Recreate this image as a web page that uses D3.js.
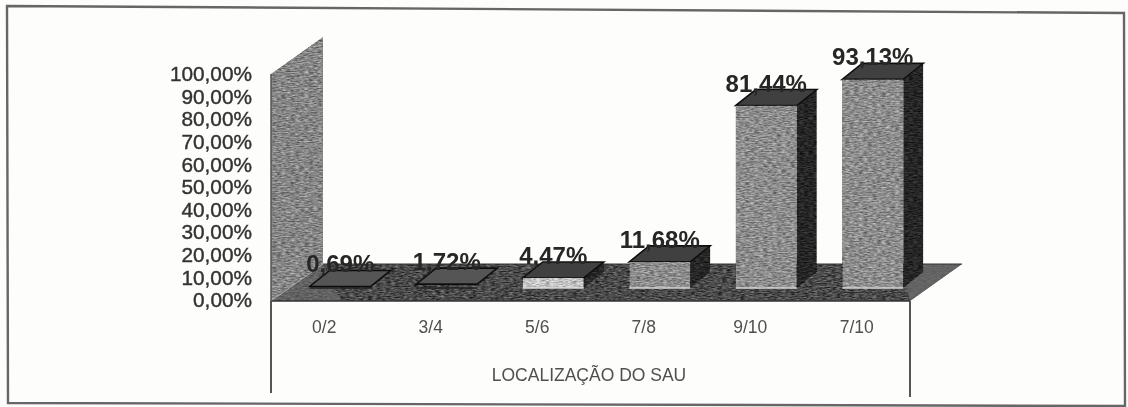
<!DOCTYPE html>
<html><head><meta charset="utf-8">
<style>html,body{margin:0;padding:0;background:#fdfdfb}svg{display:block}text{font-family:"Liberation Sans",Arial,sans-serif}</style>
<script src="https://cdn.jsdelivr.net/npm/d3@7/dist/d3.min.js"></script></head>
<body><svg id="c" width="1128" height="407"></svg>
<script>
const categories = ["0/2","3/4","5/6","7/8","9/10","7/10"];
const values = [0.69,1.72,4.47,11.68,81.44,93.13];
const labels = ["0,69%","1,72%","4,47%","11,68%","81,44%","93,13%"];
const yTicks = [0,10,20,30,40,50,60,70,80,90,100];
const xTitle = "LOCALIZAÇÃO DO SAU";

const svg = d3.select("#c");
const defs = svg.append("defs");
function noise(id, freq, amp){
  const f = defs.append("filter").attr("id",id).attr("x",0).attr("y",0).attr("width",1).attr("height",1)
    .attr("color-interpolation-filters","sRGB");
  f.append("feTurbulence").attr("type","fractalNoise").attr("baseFrequency",freq).attr("numOctaves",2).attr("seed",4).attr("result","t");
  f.append("feColorMatrix").attr("in","t").attr("type","matrix")
    .attr("values","1 0 0 0 0 1 0 0 0 0 1 0 0 0 0 0 0 0 0 1").attr("result","n");
  f.append("feComposite").attr("in","SourceGraphic").attr("in2","n").attr("operator","arithmetic")
    .attr("k1",0).attr("k2",1).attr("k3",amp).attr("k4",-amp/2).attr("result","m");
  f.append("feComposite").attr("in","m").attr("in2","SourceAlpha").attr("operator","in");
}
noise("nA","0.22 0.8",0.62);
noise("nB","0.22 0.8",0.3);
defs.append("filter").attr("id","soft")
  .attr("filterUnits","userSpaceOnUse")
  .attr("x",0).attr("y",0).attr("width",1128).attr("height",407)
  .append("feGaussianBlur").attr("stdDeviation",0.65);

const root = svg.append("g").attr("filter","url(#soft)");

// scales
const x = d3.scaleBand().domain(categories).range([271,910]);
const yAxisScale = d3.scaleLinear().domain([0,100]).range([300,74]);
const yBar = d3.scaleLinear().domain([0,100]).range([288,64]);
const barW = 61, dx = 20, dy = 16, barShift = 16;
const wallD = {x:52,y:37};
const floorY = yAxisScale(0)+1, wallX = 271, floorR = 910;
const poly = pts => pts.map(p=>p.join(",")).join(" ");

// frame
root.append("polygon").attr("points",poly([[7,6],[1124,13],[1125,406],[8,403]]))
  .attr("fill","none").attr("stroke","#666").attr("stroke-width",2.4);

// wall
root.append("polygon").attr("points",poly([[wallX,yAxisScale(100)],[wallX+wallD.x,yAxisScale(100)-wallD.y],[wallX+wallD.x,floorY-wallD.y],[wallX,floorY]]))
  .attr("fill","#858585").attr("filter","url(#nA)");
root.append("line").attr("x1",wallX).attr("x2",wallX).attr("y1",yAxisScale(100)).attr("y2",floorY).attr("stroke","#555").attr("stroke-width",1.5);

// floor
const fl=[[wallX,floorY],[floorR,floorY],[floorR+wallD.x,floorY-wallD.y],[wallX+wallD.x,floorY-wallD.y]];
root.append("polygon").attr("points",poly(fl)).attr("fill","#4a4a4a").attr("filter","url(#nA)");
root.append("polygon").attr("points",poly([[wallX,floorY],[wallX+70,floorY],[wallX+wallD.x,floorY-wallD.y]])).attr("fill","#777").attr("opacity",.55);
root.append("polygon").attr("points",poly([[floorR,floorY],[floorR+wallD.x,floorY-wallD.y],[floorR-8,floorY-wallD.y]])).attr("fill","#6a6a6a").attr("opacity",.8);
root.append("line").attr("x1",wallX).attr("y1",floorY).attr("x2",wallX+wallD.x).attr("y2",floorY-wallD.y).attr("stroke","#a8a8a8").attr("stroke-width",1);
root.append("line").attr("x1",wallX+wallD.x).attr("y1",floorY-wallD.y).attr("x2",floorR+wallD.x).attr("y2",floorY-wallD.y).attr("stroke","#333").attr("stroke-width",1);
root.append("line").attr("x1",wallX).attr("y1",floorY).attr("x2",floorR).attr("y2",floorY).attr("stroke","#333").attr("stroke-width",1.5);

// bars
const bars = root.selectAll("g.bar").data(categories.map((c,i)=>({c,v:values[i],l:labels[i]}))).join("g").attr("class","bar");
const bx = d => x(d.c)+x.bandwidth()/2+barShift-barW/2;
const tall = d => d.v>3;
bars.filter(tall).append("polygon").attr("class","side")
  .attr("points",d=>poly([[bx(d)+barW,yBar(d.v)],[bx(d)+barW+dx,yBar(d.v)-dy],[bx(d)+barW+dx,yBar(0)-dy],[bx(d)+barW,yBar(0)]]))
  .attr("fill","#262626").attr("filter","url(#nB)");
bars.append("polygon").attr("class","top")
  .attr("points",d=>poly([[bx(d),yBar(d.v)],[bx(d)+barW,yBar(d.v)],[bx(d)+barW+dx,yBar(d.v)-dy],[bx(d)+dx,yBar(d.v)-dy]]))
  .attr("fill",d=>tall(d)?"#414141":"#555").attr("stroke","#111").attr("stroke-width",1.6);
bars.filter(tall).append("rect").attr("class","front")
  .attr("x",bx).attr("y",d=>yBar(d.v)).attr("width",barW).attr("height",d=>yBar(0)-yBar(d.v))
  .attr("fill",d=>d.v<10?"#c4c4c4":"#8c8c8c").attr("filter","url(#nA)");
bars.append("line").attr("x1",bx).attr("x2",d=>bx(d)+barW).attr("y1",yBar(0)).attr("y2",yBar(0))
  .attr("stroke",d=>tall(d)?"#d6d6d6":"#222").attr("stroke-width",1.5);

// data labels
bars.append("text").text(d=>d.l)
  .attr("x",d=>bx(d)+barW/2).attr("y",d=>yBar(d.v)-14)
  .attr("text-anchor","middle").attr("font-size",24).attr("font-weight","bold").attr("fill","#262626");

// axes
const yAx = root.append("g").attr("transform","translate(252,0)")
  .call(d3.axisLeft(yAxisScale).tickValues(yTicks).tickSize(0).tickPadding(0).tickFormat(d=>d3.format(".2f")(d).replace(".",",")+"%"));
yAx.select(".domain").remove();
yAx.selectAll("text").attr("font-size",20.8).attr("font-family",null).attr("fill","#333").attr("stroke","#333").attr("stroke-width",0.4).attr("dy","0.32em");

const xAx = root.append("g").attr("transform",`translate(0,${floorY})`)
  .call(d3.axisBottom(x).tickSize(0).tickPadding(20));
xAx.select(".domain").remove();
xAx.selectAll("text").attr("font-size",17.5).attr("font-family",null).attr("fill","#505050");

root.append("line").attr("x1",wallX).attr("x2",wallX).attr("y1",floorY).attr("y2",393).attr("stroke","#444").attr("stroke-width",1.8);
root.append("line").attr("x1",floorR).attr("x2",floorR).attr("y1",floorY).attr("y2",397).attr("stroke","#444").attr("stroke-width",1.8);
root.append("text").text(xTitle).attr("x",589).attr("y",381).attr("text-anchor","middle").attr("font-size",17.5).attr("fill","#505050");
</script></body></html>
